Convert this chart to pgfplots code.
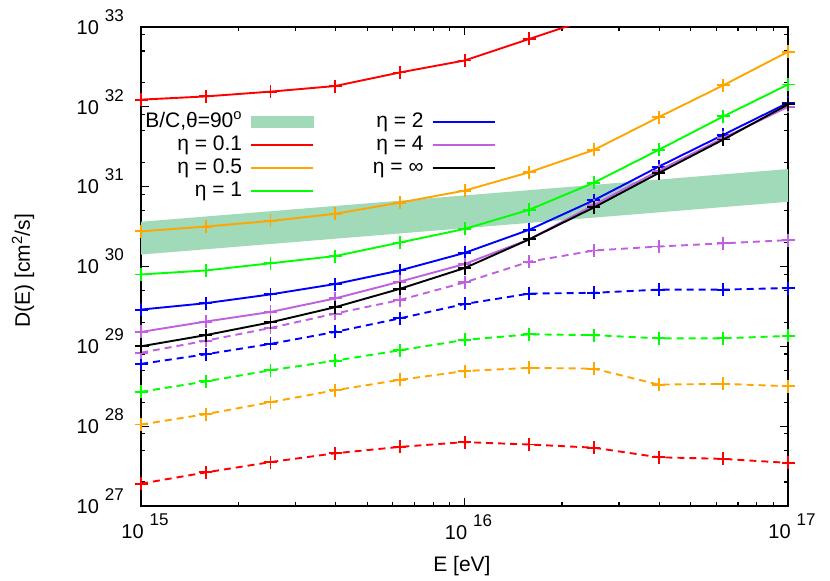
\documentclass[border=0pt]{standalone}
\usepackage{fontspec}
\setmainfont{Liberation Sans}
\usepackage{pgfplots}
\pgfplotsset{compat=1.18}
\definecolor{bandgreen}{RGB}{160,218,184}
\definecolor{myorange}{RGB}{255,165,0}
\definecolor{mygreen}{RGB}{0,255,0}
\definecolor{myblue}{RGB}{0,0,255}
\definecolor{myred}{RGB}{255,0,0}
\definecolor{mypurple}{RGB}{192,96,224}
\newcommand{\tl}[1]{\fontsize{20}{20}\selectfont 10\hspace{6pt}\raisebox{13pt}{\fontsize{17}{17}\selectfont #1}}
\pgfplotsset{
  solidline/.style={line width=1.9pt, mark=+, mark size=6.5pt, mark options={solid, line width=1.9pt}},
  dashline/.style={line width=1.9pt, dash pattern=on 7pt off 5pt, mark=+, mark size=6.5pt, mark options={solid, line width=1.9pt}},
}
\begin{document}
\begin{tikzpicture}
\begin{axis}[
  name=ax,
  scale only axis, width=647pt, height=479pt,
  xmode=log, ymode=log,
  xmin=1e15, xmax=1e17, ymin=1e27, ymax=1e33,
  xtick={1e15,1e16,1e17},
  xticklabels={\tl{15},\tl{16},\tl{17}},
  ytick={1e27,1e28,1e29,1e30,1e31,1e32,1e33},
  yticklabels={\tl{27},\tl{28},\tl{29},\tl{30},\tl{31},\tl{32},\tl{33}},
  minor xtick={2e15,3e15,4e15,5e15,6e15,7e15,8e15,9e15,2e16,3e16,4e16,5e16,6e16,7e16,8e16,9e16},
  minor ytick={2e27,5e27,8e27,2e28,5e28,8e28,2e29,5e29,8e29,2e30,5e30,8e30,2e31,5e31,8e31,2e32,5e32,8e32},
  axis line style={line width=1.6pt},
  every tick/.style={black, line width=1.2pt},
  major tick length=8pt, minor tick length=4pt,
  tick align=inside,
  xtick pos=both, ytick pos=both,
  xticklabel style={inner sep=0pt, anchor=north, yshift=-8pt, xshift=4pt},
  yticklabel style={inner sep=0pt, anchor=east, xshift=-17pt, yshift=5pt},
  clip mode=individual,
  xlabel={E [eV]},
  ylabel={D(E) [cm\textsuperscript{2}/s]},
  every axis x label/.style={at={(axis description cs:0.496,-0.1253)}, anchor=center, font=\fontsize{21}{21}\selectfont},
  every axis y label/.style={at={(axis description cs:-0.1824,0.4906)}, rotate=90, anchor=center, font=\fontsize{21}{21}\selectfont},
  legend image code/.code={\draw[#1] (0pt,0pt) -- (62pt,0pt);},
  legend columns=2, legend cell align=right, legend plot pos=right,
  legend style={at={(0.0062,0.8246)}, anchor=north west, draw=none, fill=none, inner sep=0pt,
    font=\fontsize{21}{23}\selectfont,
    nodes={inner sep=0pt, text height=16pt, text depth=6pt},
    row sep=1pt, column sep=8pt,
    /tikz/every even column/.append style={column sep=59pt}},
]
% B/C band
\addplot[fill=bandgreen, draw=none, forget plot] coordinates {(1e15,3.63e30) (1e17,1.66e31) (1e17,6.46e30) (1e15,1.41e30)} -- cycle;

% eta = 0.1
\addplot[myred, solidline, forget plot] coordinates {(1e15,1.230e32) (1.585e15,1.349e32) (2.512e15,1.549e32) (3.981e15,1.820e32) (6.310e15,2.692e32) (1e16,3.802e32) (1.585e16,7.079e32)};
\addplot[myred, line width=1.9pt, no marks, forget plot] coordinates {(1.585e16,7.079e32) (2.512e16,1.32e33)};
\addplot[myred, dashline, forget plot] coordinates {(1e15,1.905e27) (1.585e15,2.630e27) (2.512e15,3.548e27) (3.981e15,4.571e27) (6.310e15,5.495e27) (1e16,6.310e27) (1.585e16,5.888e27) (2.512e16,5.370e27) (3.981e16,4.074e27) (6.310e16,3.890e27) (1e17,3.467e27)};

% eta = 0.5
\addplot[myorange, solidline, forget plot] coordinates {(1e15,2.754e30) (1.585e15,3.162e30) (2.512e15,3.715e30) (3.981e15,4.571e30) (6.310e15,6.310e30) (1e16,8.913e30) (1.585e16,1.514e31) (2.512e16,2.884e31) (3.981e16,7.413e31) (6.310e16,1.862e32) (1e17,4.898e32)};
\addplot[myorange, dashline, forget plot] coordinates {(1e15,1.047e28) (1.585e15,1.413e28) (2.512e15,1.995e28) (3.981e15,2.818e28) (6.310e15,3.802e28) (1e16,4.898e28) (1.585e16,5.370e28) (2.512e16,5.248e28) (3.981e16,3.311e28) (6.310e16,3.388e28) (1e17,3.162e28)};

% eta = 1
\addplot[mygreen, solidline, forget plot] coordinates {(1e15,7.943e29) (1.585e15,8.913e29) (2.512e15,1.096e30) (3.981e15,1.349e30) (6.310e15,1.995e30) (1e16,2.951e30) (1.585e16,5.129e30) (2.512e16,1.122e31) (3.981e16,2.884e31) (6.310e16,7.586e31) (1e17,1.905e32)};
\addplot[mygreen, dashline, forget plot] coordinates {(1e15,2.692e28) (1.585e15,3.631e28) (2.512e15,5.012e28) (3.981e15,6.607e28) (6.310e15,8.913e28) (1e16,1.202e29) (1.585e16,1.413e29) (2.512e16,1.380e29) (3.981e16,1.259e29) (6.310e16,1.259e29) (1e17,1.349e29)};

% eta = 2
\addplot[myblue, solidline, forget plot] coordinates {(1e15,2.884e29) (1.585e15,3.467e29) (2.512e15,4.467e29) (3.981e15,6.026e29) (6.310e15,8.913e29) (1e16,1.479e30) (1.585e16,2.884e30) (2.512e16,6.761e30) (3.981e16,1.778e31) (6.310e16,4.467e31) (1e17,1.122e32)};
\addplot[myblue, dashline, forget plot] coordinates {(1e15,6.026e28) (1.585e15,7.943e28) (2.512e15,1.072e29) (3.981e15,1.514e29) (6.310e15,2.239e29) (1e16,3.388e29) (1.585e16,4.571e29) (2.512e16,4.677e29) (3.981e16,5.129e29) (6.310e16,5.129e29) (1e17,5.370e29)};

% eta = 4
\addplot[mypurple, solidline, forget plot] coordinates {(1e15,1.514e29) (1.585e15,2.042e29) (2.512e15,2.692e29) (3.981e15,3.981e29) (6.310e15,6.457e29) (1e16,1.072e30) (1.585e16,2.188e30) (2.512e16,5.888e30) (3.981e16,1.585e31) (6.310e16,4.074e31) (1e17,1.000e32)};
\addplot[mypurple, dashline, forget plot] coordinates {(1e15,8.318e28) (1.585e15,1.175e29) (2.512e15,1.698e29) (3.981e15,2.570e29) (6.310e15,3.802e29) (1e16,6.310e29) (1.585e16,1.148e30) (2.512e16,1.585e30) (3.981e16,1.778e30) (6.310e16,1.950e30) (1e17,2.138e30)};

% eta = infinity
\addplot[black, solidline, forget plot] coordinates {(1e15,1.000e29) (1.585e15,1.380e29) (2.512e15,1.995e29) (3.981e15,3.090e29) (6.310e15,5.248e29) (1e16,9.550e29) (1.585e16,2.188e30) (2.512e16,5.495e30) (3.981e16,1.479e31) (6.310e16,3.890e31) (1e17,1.072e32)};

% legend (row-wise order for two columns)
\addlegendimage{legend image code/.code={\fill[bandgreen] (0pt,-5.5pt) rectangle (62pt,5.5pt);}}
\addlegendentry{B/C,θ=90\textsuperscript{o}}
\addlegendimage{myblue, line width=1.9pt}
\addlegendentry{η = 2}
\addlegendimage{myred, line width=1.9pt}
\addlegendentry{η = 0.1}
\addlegendimage{mypurple, line width=1.9pt}
\addlegendentry{η = 4}
\addlegendimage{myorange, line width=1.9pt}
\addlegendentry{η = 0.5}
\addlegendimage{black, line width=1.9pt}
\addlegendentry{η = ∞}
\addlegendimage{mygreen, line width=1.9pt}
\addlegendentry{η = 1}
\end{axis}
\pgfresetboundingbox
\path[use as bounding box] ([xshift=-141pt,yshift=-75pt]ax.south west) rectangle ++(830pt,581pt);
\end{tikzpicture}
\end{document}
